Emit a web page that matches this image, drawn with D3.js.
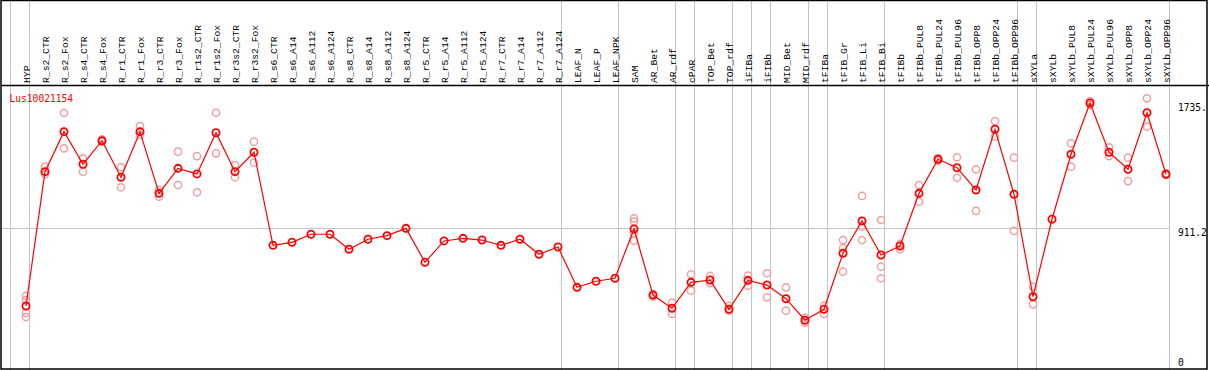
<!DOCTYPE html>
<html>
<head>
<meta charset="utf-8">
<script src="https://cdn.jsdelivr.net/npm/d3@7"></script>
<style>
  html, body { margin: 0; padding: 0; background: #fff; }
  svg { display: block; }
  text { font-family: "DejaVu Sans Mono", "Liberation Mono", monospace; font-size: 9.6px; }
  .cat { font-family: "Liberation Mono", "DejaVu Sans Mono", monospace; font-size: 9.7px; }
</style>
</head>
<body>
<script>
const title = "Lus10021154";
const categories = ["HYP","R_s2_CTR","R_s2_Fox","R_s4_CTR","R_s4_Fox","R_r1_CTR","R_r1_Fox","R_r3_CTR","R_r3_Fox","R_r1s2_CTR","R_r1s2_Fox","R_r3s2_CTR","R_r3s2_Fox","R_s6_CTR","R_s6_A14","R_s6_A112","R_s6_A124","R_s8_CTR","R_s8_A14","R_s8_A112","R_s8_A124","R_r5_CTR","R_r5_A14","R_r5_A112","R_r5_A124","R_r7_CTR","R_r7_A14","R_r7_A112","R_r7_A124","LEAF_N","LEAF_P","LEAF_NPK","SAM","AR_Bet","AR_rdf","cPAR","TOP_Bet","TOP_rdf","iFIBa","iFIBb","MID_Bet","MID_rdf","tFIBa","tFIB_Gr","tFIB_Li","tFIB_Bi","tFIBb","tFIBb_PUL8","tFIBb_PUL24","tFIBb_PUL96","tFIBb_OPP8","tFIBb_OPP24","tFIBb_OPP96","sXYLa","sXYLb","sXYLb_PUL8","sXYLb_PUL24","sXYLb_PUL96","sXYLb_OPP8","sXYLb_OPP24","sXYLb_OPP96"];
const groupSizes = [1,28,3,3,1,2,1,1,2,1,3,7,1,7];
const means = [396,1282,1546,1331,1486,1245,1546,1139,1304,1267,1539,1282,1410,796,816,869,869,770,836,860,908,684,825,842,831,796,836,737,785,519,559,579,904,468,381,552,567,374,565,534,444,302,374,744,957,732,792,1139,1364,1308,1161,1562,1133,457,968,1397,1735,1410,1298,1671,1265];
const replicates = [
  [462,435,350,323],[1315,1265],[1669,1436],[1370,1282],[1496,1478],[1311,1179],[1583,1524],[1161,1117],[1414,1194],[1385,1146],[1671,1403],[1326,1245],[1480,1341],
  [],[],[],[],[],[],[],[],[],[],[],[],[],[],[],[],[],[],[],
  [974,952,875,827],[457,475],[418,343],[605,497],[594,546],[396,365],[596,530],[612,453],[519,365],[286,317],[396,343],
  [831,777,622],[1122,919,831],[963,655,579],[770,805],[1194,1084],[1354,1372],[1377,1242],[1298,1023],[1616,1513],[1374,891],
  [523,407],[],[1469,1315],[1748,1722],[1443,1385],[1374,1220],[1766,1579],[1271,1260]
];
const yTickValues = [1735, 911.2, 0];
const yTickLabels = ["1735.", "911.2", "0"];
const gridValues = [911.2];

const W = 1209, H = 370;
const svg = d3.select("body").append("svg").attr("width", W).attr("height", H);

const x = d3.scaleBand().domain(categories).range([11, 11 + 19 * categories.length]).paddingInner(0).paddingOuter(0);
const px = c => x(c) + 15;
const y = d3.scaleLinear().domain([0, 1735]).range([366, 103]);

// group boundaries
const bounds = [0];
groupSizes.reduce((acc, s) => { bounds.push(acc + s); return acc + s; }, 0);
svg.append("g").selectAll("line").data(bounds).join("line")
  .attr("x1", k => Math.round(x.range()[0] + x.step() * k) - 0.5)
  .attr("x2", k => Math.round(x.range()[0] + x.step() * k) - 0.5)
  .attr("y1", 0).attr("y2", H)
  .attr("stroke", "#c4c4c4").attr("stroke-width", 1);

// horizontal grid
svg.append("g").selectAll("line").data(gridValues).join("line")
  .attr("x1", 1).attr("x2", x.range()[1])
  .attr("y1", d => Math.round(y(d)) + 0.5).attr("y2", d => Math.round(y(d)) + 0.5)
  .attr("stroke", "#c4c4c4").attr("stroke-width", 1);

// frame
svg.append("rect").attr("x", 1).attr("y", 0.5).attr("width", 1206).attr("height", 368.5)
  .attr("fill", "none").attr("stroke", "#000").attr("stroke-width", 1.5);
svg.append("line").attr("x1", 1).attr("x2", W).attr("y1", 85.5).attr("y2", 85.5)
  .attr("stroke", "#000").attr("stroke-width", 1.5);

// category labels
svg.append("g").selectAll("text").data(categories).join("text")
  .attr("class", "cat")
  .attr("transform", c => `translate(${px(c) + 3.5},83) rotate(-90)`)
  .attr("text-anchor", "start")
  .attr("fill", "#000")
  .text(c => c);

// title
svg.append("text").attr("x", 9.5).attr("y", 101.5).attr("fill", "#ff0000").text(title);

// y tick labels
svg.append("g").selectAll("text").data(yTickValues).join("text")
  .attr("x", 1178)
  .attr("y", d => Math.min(y(d) + 8, 365.5))
  .attr("fill", "#000")
  .text((d, i) => yTickLabels[i]);

// replicates
const repData = [];
replicates.forEach((arr, i) => arr.forEach(v => repData.push({c: categories[i], v})));
svg.append("g").selectAll("circle").data(repData).join("circle")
  .attr("cx", d => px(d.c)).attr("cy", d => y(d.v)).attr("r", 3.6)
  .attr("fill", "none").attr("stroke", "#f0a0a0").attr("stroke-width", 1.5);

// line
const line = d3.line().x((d, i) => px(categories[i])).y(d => y(d));
svg.append("path").datum(means).attr("d", line)
  .attr("fill", "none").attr("stroke", "#ff0000").attr("stroke-width", 1.2);

// mean points
svg.append("g").selectAll("circle").data(means).join("circle")
  .attr("cx", (d, i) => px(categories[i])).attr("cy", d => y(d)).attr("r", 3.6)
  .attr("fill", "none").attr("stroke", "#ff0000").attr("stroke-width", 1.8);
</script>
</body>
</html>
